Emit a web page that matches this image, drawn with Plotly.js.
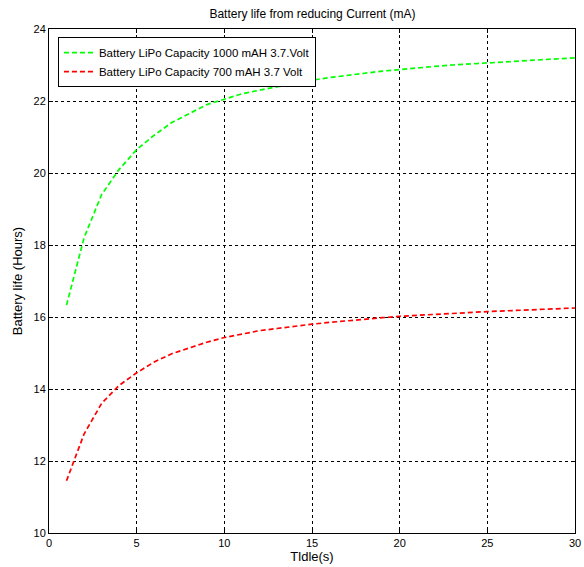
<!DOCTYPE html>
<html>
<head>
<meta charset="utf-8">
<script src="https://cdn.plot.ly/plotly-3.0.1.min.js"></script>
<style>html,body{margin:0;padding:0;background:#fff;}#chart{width:584px;height:567px;}</style>
</head>
<body>
<div id="chart"></div>
<script>
const tidle = [1,2,3,4,5,6,7,8,9,10,11,12,13,14,15,16,17,18,19,20,21,22,23,24,25,26,27,28,29,30];
const life1000 = [16.33,18.2,19.4,20.1,20.65,21.05,21.4,21.65,21.9,22.05,22.2,22.3,22.4,22.5,22.58,22.65,22.7,22.77,22.83,22.88,22.92,22.96,23.0,23.03,23.07,23.1,23.12,23.15,23.18,23.2];
const life700 = [11.45,12.75,13.6,14.1,14.45,14.75,14.98,15.15,15.3,15.43,15.53,15.62,15.68,15.75,15.8,15.85,15.9,15.94,15.98,16.02,16.05,16.07,16.1,16.12,16.15,16.17,16.19,16.21,16.23,16.25];
const seriesNames = ['Battery LiPo Capacity 1000 mAH 3.7.Volt','Battery LiPo Capacity 700 mAH 3.7 Volt'];
const xTicks = [0,5,10,15,20,25,30];
const yTicks = [10,12,14,16,18,20,22,24];

const font = {family: 'Liberation Sans, Arial, sans-serif', color: '#000'};
const traces = [
  {x: tidle, y: life1000, name: seriesNames[0], type: 'scatter', mode: 'lines', line: {color: '#00ff00', width: 1.7, dash: '5px,3px'}},
  {x: tidle, y: life700, name: seriesNames[1], type: 'scatter', mode: 'lines', line: {color: '#ff0000', width: 1.7, dash: '5px,3px'}}
];
const axisCommon = {
  showline: true, linecolor: '#000', linewidth: 1, mirror: 'ticks',
  ticks: 'inside', ticklen: 4, tickcolor: '#000',
  showgrid: true, gridcolor: '#000', griddash: 'dot', gridwidth: 1,
  zeroline: false, tickfont: {family: font.family, size: 11, color: '#000'}
};
const layout = {
  width: 584, height: 567,
  margin: {l: 49, r: 9, t: 29, b: 34},
  paper_bgcolor: '#fff', plot_bgcolor: '#fff',
  font: font,
  title: {text: 'Battery life from reducing Current (mA)', font: {family: font.family, size: 12, color: '#000'}, x: 0.535, xanchor: 'center', y: 0.975, yanchor: 'middle'},
  xaxis: Object.assign({}, axisCommon, {range: [0, 30], tickvals: xTicks, ticktext: xTicks.map(String),
    title: {text: 'Tldle(s)', font: {family: font.family, size: 13, color: '#000'}, standoff: 3}}),
  yaxis: Object.assign({}, axisCommon, {range: [10, 24], tickvals: yTicks, ticktext: yTicks.map(String),
    title: {text: 'Battery life (Hours)', font: {family: font.family, size: 13, color: '#000'}, standoff: 7}}),
  showlegend: true,
  legend: {x: 0.017, y: 0.984, xanchor: 'left', yanchor: 'top', bgcolor: '#fff', bordercolor: '#000', borderwidth: 1,
    font: {family: font.family, size: 11.5, color: '#000'}, tracegroupgap: 0, itemwidth: 30}
};
Plotly.newPlot('chart', traces, layout, {displayModeBar: false, staticPlot: true});
</script>
</body>
</html>
